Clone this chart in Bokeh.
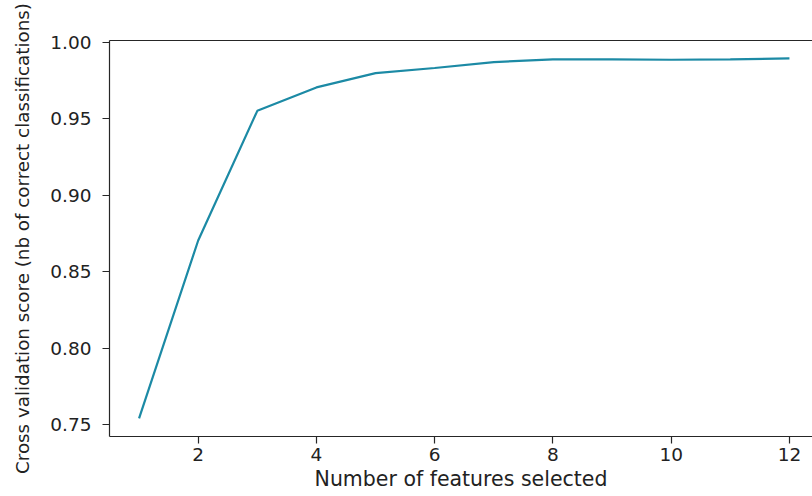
from bokeh.plotting import figure
from bokeh.models import Range1d, FixedTicker, LinearAxis, NumeralTickFormatter
from bokeh.embed import file_html
from bokeh.resources import INLINE

n_features = [1, 2, 3, 4, 5, 6, 7, 8, 9, 10, 11, 12]
cv_scores = [0.7541, 0.8704, 0.9552, 0.9705, 0.9799, 0.9832, 0.9871, 0.9888,
             0.9888, 0.9886, 0.9888, 0.9895]
x_ticks = [2, 4, 6, 8, 10, 12]
y_ticks = [0.75, 0.80, 0.85, 0.90, 0.95, 1.00]

FONT = "DejaVu Sans"
AX = "#262626"

p = figure(width=812, height=496, output_backend="svg", toolbar_location=None,
           x_range=Range1d(0.50, 12.39), y_range=Range1d(0.7422, 1.0012),
           min_border_left=109, min_border_right=0, min_border_top=40,
           min_border_bottom=60)
p.outline_line_color = None
p.background_fill_color = "white"
p.border_fill_color = "white"
p.grid.visible = False

p.line(n_features, cv_scores, line_color="#1c8aa5", line_width=2.2)

for ax in (p.xaxis[0], p.yaxis[0]):
    ax.axis_line_color = AX
    ax.axis_line_width = 1.2
    ax.major_tick_line_color = AX
    ax.major_tick_line_width = 1.2
    ax.major_tick_out = 7
    ax.major_tick_in = 0
    ax.minor_tick_line_color = None
    ax.major_label_text_font = FONT
    ax.major_label_text_color = "#222222"
    ax.axis_label_text_font = FONT
    ax.axis_label_text_font_style = "normal"
    ax.axis_label_text_color = "#222222"

p.xaxis.ticker = FixedTicker(ticks=x_ticks)
p.yaxis.ticker = FixedTicker(ticks=y_ticks)
p.yaxis.formatter = NumeralTickFormatter(format="0.00")
p.xaxis.major_label_text_font_size = "18.5px"
p.yaxis.major_label_text_font_size = "18.5px"
p.xaxis.major_label_standoff = 4
p.yaxis.major_label_standoff = 11
p.xaxis.axis_label = "Number of features selected"
p.yaxis.axis_label = "Cross validation score (nb of correct classifications)"
p.xaxis.axis_label_text_font_size = "20.5px"
p.yaxis.axis_label_text_font_size = "18.3px"
p.xaxis.axis_label_standoff = 3
p.yaxis.axis_label_standoff = 14

top = LinearAxis(ticker=FixedTicker(ticks=[]), major_label_text_font_size="0px",
                 axis_line_color=AX, axis_line_width=1.2,
                 major_tick_line_color=None, minor_tick_line_color=None)
p.add_layout(top, "above")

open("out.html", "w").write(file_html(p, INLINE))
